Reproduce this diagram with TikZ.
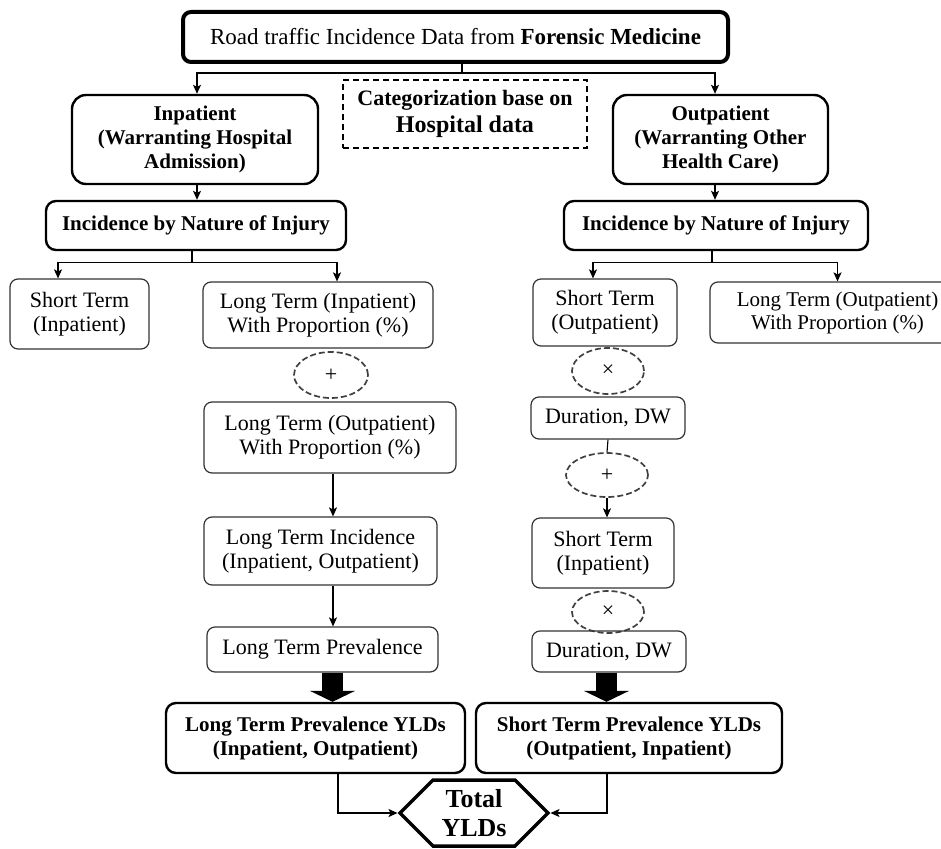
\documentclass[tikz,border=0pt]{standalone}
\usepackage{fontspec}
\setmainfont{Liberation Serif}
\usetikzlibrary{arrows.meta,shapes.geometric,shapes.symbols}

\begin{document}
\begin{tikzpicture}[x=1pt,y=1pt,>={Stealth[length=9pt,width=8pt,inset=2pt]},node distance=60pt,
	main node/.style={draw,rounded corners=10pt,line width=2.4pt,align=center,inner sep=2pt,font=\fontsize{21}{24}\selectfont\bfseries},
	plain node/.style={draw=black!80,rounded corners=8pt,line width=1.2pt,align=center,inner sep=2pt,font=\fontsize{22}{24}\selectfont},
	op node/.style={ellipse,draw=black!75,dash pattern=on 6pt off 3pt,line width=1.7pt,minimum width=74pt,minimum height=46pt,inner sep=0pt,font=\fontsize{22}{24}\selectfont},
	hex node/.style={signal,signal to=east and west,signal pointer angle=90,draw,line width=3.5pt,minimum width=148pt,minimum height=66pt,inner sep=0pt,align=center,font=\fontsize{26}{29}\selectfont\bfseries},
	link/.style={line width=1.1pt},
	big arrow/.style={line width=21pt,-{Triangle[length=11pt,width=45pt]}}]
	
	\useasboundingbox (0,0) rectangle (941,-848);
	
	\node[main node,line width=4pt,rounded corners=8pt,minimum width=545pt,minimum height=50pt,font=\fontsize{23}{25}\selectfont] (road) at (455.5,-37) {Road traffic Incidence Data from \textbf{Forensic Medicine}};
	\node[main node,rounded corners=14pt,minimum width=246pt,minimum height=89pt,node distance=102.5pt] (inpat) [below of=road,xshift=-260.5pt] {Inpatient\\(Warranting Hospital\\Admission)};
	\node[main node,rounded corners=14pt,minimum width=215pt,minimum height=89pt,node distance=525.5pt] (outpat) [right of=inpat] {Outpatient\\(Warranting Other\\Health Care)};
	\node[draw,sharp corners,dash pattern=on 6pt off 4pt,line width=1.5pt,minimum width=244pt,minimum height=68pt,align=center,font=\fontsize{22}{27}\selectfont\bfseries,node distance=270pt] (categ) [right of=inpat,yshift=25.5pt] {Categorization base on\\{\fontsize{24}{27}\selectfont Hospital data}};
	
	\node[main node,minimum width=300pt,minimum height=49pt,node distance=86pt] (incl) [below of=inpat,xshift=1pt] {Incidence by Nature of Injury};
	\node[main node,minimum width=304pt,minimum height=49pt,node distance=86pt] (incr) [below of=outpat,xshift=-4.5pt] {Incidence by Nature of Injury};
	
	% inpatient column
	\node[plain node,minimum width=139pt,minimum height=70pt,node distance=88.5pt] (stinl) [below of=incl,xshift=-116.5pt] {Short Term\\(Inpatient)};
	\node[plain node,minimum width=230pt,minimum height=66pt,node distance=89.5pt] (ltinl) [below of=incl,xshift=122pt] {Long Term (Inpatient)\\With Proportion (\%)};
	\node[op node,node distance=60pt] (plusl) [below of=ltinl,xshift=13pt] {+};
	\node[plain node,minimum width=252pt,minimum height=71pt,node distance=62.5pt] (ltoutl) [below of=plusl,xshift=-1pt] {Long Term (Outpatient)\\With Proportion (\%)};
	\node[plain node,minimum width=233pt,minimum height=68pt,node distance=113.5pt] (lti) [below of=ltoutl,xshift=-9.5pt] {Long Term Incidence\\(Inpatient, Outpatient)};
	\node[plain node,minimum width=231pt,minimum height=45pt,node distance=98.5pt] (ltp) [below of=lti,xshift=2pt] {Long Term Prevalence};
	\node[main node,minimum width=299pt,minimum height=70pt,node distance=88.5pt] (ltpy) [below of=ltp,xshift=-7pt] {Long Term Prevalence YLDs\\(Inpatient, Outpatient)};
	
	% outpatient column
	\node[plain node,minimum width=144pt,minimum height=67pt,node distance=87pt] (stoutr) [below of=incr,xshift=-111pt] {Short Term\\(Outpatient)};
	\node[plain node,minimum width=255pt,minimum height=61pt,node distance=232.5pt,font=\fontsize{21}{23}\selectfont] (ltoutr) [right of=stoutr] {Long Term (Outpatient)\hspace{8pt}\\With Proportion (\%)\hspace{8pt}};
	\node[op node,minimum width=72pt,node distance=58.5pt] (timesa) [below of=stoutr,xshift=3pt] {×};
	\node[plain node,minimum width=154pt,minimum height=42pt,node distance=47pt] (dura) [below of=timesa] {Duration, DW};
	\node[op node,minimum width=82pt,minimum height=44pt,node distance=57pt] (plusr) [below of=dura,xshift=-1pt] {+};
	\node[plain node,minimum width=142pt,minimum height=70pt,node distance=78pt] (stinr) [below of=plusr,xshift=-4pt] {Short Term\\(Inpatient)};
	\node[op node,minimum width=72pt,minimum height=42pt,node distance=59pt] (timesb) [below of=stinr,xshift=5pt] {×};
	\node[plain node,minimum width=154pt,minimum height=41pt,node distance=39.5pt] (durb) [below of=timesb,xshift=1pt] {Duration, DW};
	\node[main node,minimum width=306pt,minimum height=70pt,node distance=86.5pt] (stpy) [below of=durb,xshift=20pt] {Short Term Prevalence YLDs\\(Outpatient, Inpatient)};
	
	\node[hex node,node distance=75pt] (total) [below of=ltpy,xshift=158.5pt] {Total\\YLDs};
	
	% connectors
	\draw[link,->] ([xshift=6.5pt]road.south) -- ++(0,-9) -| ([xshift=2pt]inpat.north);
	\draw[link,->] ([xshift=6.5pt]road.south) -- ++(0,-9) -| ([xshift=-5.5pt]outpat.north);
	\draw[link,->] ([xshift=2pt]inpat.south) -- ([xshift=2pt]inpat.south |- incl.north);
	\draw[link,->] ([xshift=-5.5pt]outpat.south) -- ([xshift=-5.5pt]outpat.south |- incr.north);
	\draw[link,->] ([xshift=-4pt]incl.south) -- ++(0,-11) -| ([xshift=-21.5pt]stinl.north);
	\draw[link,->] ([xshift=-4pt]incl.south) -- ++(0,-11) -| ([xshift=19pt]ltinl.north);
	\draw[link,->] ([xshift=-4pt]incr.south) -- ++(0,-11) -| ([xshift=-12pt]stoutr.north);
	\draw[link,->] ([xshift=-4pt]incr.south) -- ++(0,-11) -| (ltoutr.north);
	\draw[link,->] ([xshift=3pt]ltoutl.south) -- ([xshift=3pt]ltoutl.south |- lti.north);
	\draw[link,->] ([xshift=12.5pt]lti.south) -- ([xshift=12.5pt]lti.south |- ltp.north);
	\draw[link] (dura.south) -- (plusr.north);
	\draw[link,->] (plusr.south) -- (plusr.south |- stinr.north);
	\draw[big arrow] ([xshift=10pt]ltp.south) -- ([xshift=10pt]ltp.south |- ltpy.north);
	\draw[big arrow] ([xshift=-2.5pt]durb.south) -- ([xshift=-2.5pt]durb.south |- stpy.north);
	\draw[link,->] ([xshift=22.5pt]ltpy.south) |- (total.west);
	\draw[link,->] ([xshift=-22pt]stpy.south) |- (total.east);
\end{tikzpicture}
\end{document}
